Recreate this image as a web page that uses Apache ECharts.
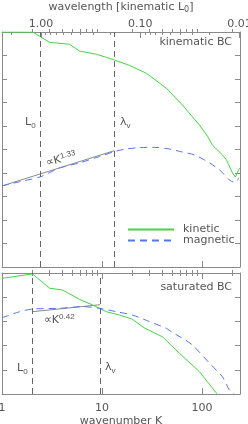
<!DOCTYPE html>
<html><head><meta charset="utf-8">
<script src="https://cdn.jsdelivr.net/npm/echarts@6/dist/echarts.min.js"></script>
<style>html,body{margin:0;padding:0;background:#fff}#c{width:248px;height:424px}</style>
</head><body><div id="c"></div>
<script>
// ---- data (y values are log10 of spectral energy, arbitrary units) ----
const kinTopK   = [1, 2.02, 2.43, 2.99, 4.73, 5.96, 8.81, 11.1, 13.3, 18.8, 27.9, 44.2, 63.8, 94.4, 113.5, 127, 160, 176, 202, 216, 232, 240];
const kinTopY   = [0, 0, -0.20, -0.44, -0.52, -0.81, -0.95, -1.08, -1.19, -1.42, -1.76, -2.40, -3.11, -3.96, -4.43, -4.81, -5.23, -5.45, -6.00, -6.17, -5.87, -5.79];
const magTopK   = [1, 1.50, 2.43, 3.76, 5.96, 9.44, 13.3, 16.8, 23.7, 33.5, 47.3, 63.8, 84.1, 119, 150, 202, 221, 232];
const magTopY   = [-6.55, -6.37, -6.16, -5.79, -5.57, -5.30, -5.09, -4.99, -4.92, -4.91, -4.98, -5.11, -5.23, -5.57, -5.87, -6.37, -6.38, -6.21];
const fitTopK   = [1, 13.3];
const fitTopY   = [-6.55, -5.05];
const kinBotK   = [1, 2.02, 2.99, 4.03, 5.96, 8.04, 11.1, 15.0, 19.9, 26.6, 40.3, 59.6, 94.4, 140, 157];
const kinBotY   = [-0.22, -0.04, -0.63, -0.70, -1.09, -1.32, -1.60, -1.74, -1.90, -2.27, -2.64, -3.32, -4.08, -4.97, -5.3];
const magBotK   = [1, 1.50, 2.02, 3.76, 6.38, 9.44, 14.0, 20.2, 29.9, 44.2, 49.5, 63.8, 80.4, 119, 160, 188, 211];
const magBotY   = [-1.85, -1.60, -1.49, -1.46, -1.39, -1.46, -1.60, -1.74, -2.01, -2.29, -2.43, -2.70, -2.98, -3.73, -4.29, -4.83, -5.0];
const fitBotK   = [2.0, 9.6];
const fitBotY   = [-1.60, -1.31];
const topMarks  = [2.43, 13.3];   // L0, lambda_v (kinematic)
const botMarks  = [2.0, 9.6];     // L0, lambda_v (saturated)
const kMajor    = [1, 10, 100];
const kMinor    = [2,3,4,5,6,7,8,9,20,30,40,50,60,70,80,90,200];
const wlMajor   = [1, 0.1, 0.01];
const wlMinor   = [2, 0.9,0.8,0.7,0.6,0.5,0.4,0.3,0.2, 0.09,0.08,0.07,0.06,0.05,0.04,0.03,0.02];
const K_MIN = 1, K_MAX = 240, WL_MIN = 0.0099, WL_MAX = 2.47;

const pair = (xs, ys) => xs.map((x, i) => [x, ys[i]]);
const GREEN = '#44d444', BLUE = '#5577ee', GRAY = '#8a8a8a', TXT = '#555';
const FONT = 'DejaVu Sans';

const lineX = (grid, pos, major, labels, extra) => Object.assign({
  gridIndex: grid, type: 'log', position: pos, min: K_MIN, max: K_MAX,
  axisLine: {show: true, onZero: false, lineStyle: {color: GRAY, width: 1}},
  axisTick: major ? {inside: true, length: 6, customValues: kMajor, lineStyle: {color: GRAY}}
                  : {inside: true, length: 3, customValues: kMinor, lineStyle: {color: GRAY}},
  axisLabel: labels ? {show: true, customValues: kMajor, color: TXT, fontFamily: FONT, fontSize: 11, margin: 9, formatter: v => String(Math.round(v))} : {show: false},
  splitLine: {show: false}
}, extra || {});
const wlX = (major, extra) => Object.assign({
  gridIndex: 0, type: 'log', position: 'top', inverse: true, min: WL_MIN, max: WL_MAX,
  axisLine: {show: major, onZero: false, lineStyle: {color: GRAY, width: 1}},
  axisTick: major ? {inside: true, length: 6, customValues: wlMajor, lineStyle: {color: GRAY}}
                  : {inside: true, length: 3, customValues: wlMinor, lineStyle: {color: GRAY}},
  axisLabel: major ? {show: true, customValues: wlMajor, color: TXT, fontFamily: FONT, fontSize: 11, margin: 2, formatter: v => v.toFixed(2)} : {show: false},
  splitLine: {show: false}
}, extra || {});
const yA = (grid, pos, min) => ({
  gridIndex: grid, type: 'value', position: pos, min: min, max: 0, interval: 1,
  axisLine: {show: true, onZero: false, lineStyle: {color: GRAY, width: 1}},
  axisTick: {show: true, inside: true, length: 5, lineStyle: {color: GRAY}},
  axisLabel: {show: false}, splitLine: {show: false}
});

const markL = (vals) => ({
  silent: true, symbol: ['none', 'none'], label: {show: false},
  lineStyle: {color: '#666', type: [6, 4], width: 1},
  data: vals.map(v => ({xAxis: v}))
});

const chart = echarts.init(document.getElementById('c'), null, {renderer: 'canvas'});
chart.setOption({
  animation: false,
  grid: [
    {left: 2, width: 238, top: 32, height: 235, outerBoundsMode: 'none', containLabel: false},
    {left: 2, width: 238, top: 273, height: 121, outerBoundsMode: 'none', containLabel: false}
  ],
  xAxis: [
    lineX(0, 'bottom', true, false),
    lineX(0, 'bottom', false, false, {axisLine: {show: false}}),
    wlX(true, {name: 'wavelength [kinematic L{s|0}]', nameLocation: 'middle', nameGap: 16,
      nameTextStyle: {color: TXT, fontFamily: FONT, fontSize: 11,
        rich: {s: {fontSize: 8, color: TXT, fontFamily: FONT, padding: [6, 0, 0, 0]}}}}),
    wlX(false),
    lineX(1, 'bottom', true, true, {name: 'wavenumber K', nameLocation: 'middle', nameGap: 22,
      nameTextStyle: {color: TXT, fontFamily: FONT, fontSize: 11}}),
    lineX(1, 'bottom', false, false, {axisLine: {show: false}}),
    lineX(1, 'top', true, false),
    lineX(1, 'top', false, false, {axisLine: {show: false}})
  ],
  yAxis: [yA(0, 'left', -10), yA(0, 'right', -10), yA(1, 'left', -5), yA(1, 'right', -5)],
  legend: {
    left: 127, top: 224, orient: 'vertical', itemWidth: 46, itemHeight: 12, itemGap: 0,
    padding: 0, data: ['kinetic', 'magnetic'],
    itemStyle: {color: 'rgba(0,0,0,0)', borderWidth: 0, opacity: 0},
    textStyle: {color: TXT, fontFamily: FONT, fontSize: 11, padding: [0, 0, 0, 4]}
  },
  series: [
    {name: 'kinetic', type: 'line', xAxisIndex: 0, yAxisIndex: 0, data: pair(kinTopK, kinTopY),
     symbol: 'none', lineStyle: {color: GREEN, width: 1}, itemStyle: {color: GREEN}, z: 3,
     markLine: markL(topMarks)},
    {name: 'magnetic', type: 'line', xAxisIndex: 0, yAxisIndex: 0, data: pair(magTopK, magTopY),
     symbol: 'none', smooth: 0.3, lineStyle: {color: BLUE, width: 1, type: [7, 5]}, itemStyle: {color: BLUE}, z: 4},
    {name: 'fit1', type: 'line', xAxisIndex: 0, yAxisIndex: 0, data: pair(fitTopK, fitTopY),
     symbol: 'none', lineStyle: {color: '#888', width: 1}, z: 2},
    {name: 'kinetic', type: 'line', xAxisIndex: 4, yAxisIndex: 2, data: pair(kinBotK, kinBotY),
     symbol: 'none', lineStyle: {color: GREEN, width: 1}, itemStyle: {color: GREEN}, z: 3,
     markLine: markL(botMarks)},
    {name: 'magnetic', type: 'line', xAxisIndex: 4, yAxisIndex: 2, data: pair(magBotK, magBotY),
     symbol: 'none', smooth: 0.3, lineStyle: {color: BLUE, width: 1, type: [7, 5]}, itemStyle: {color: BLUE}, z: 4},
    {name: 'fit2', type: 'line', xAxisIndex: 4, yAxisIndex: 2, data: pair(fitBotK, fitBotY),
     symbol: 'none', lineStyle: {color: '#888', width: 1}, z: 2}
  ],
  graphic: [
    {type: 'text', right: 16, top: 37, style: {text: 'kinematic BC', fill: TXT, font: '11px ' + FONT}},
    {type: 'text', right: 16, top: 282, style: {text: 'saturated BC', fill: TXT, font: '11px ' + FONT}},
    {type: 'text', left: 25, top: 117, style: {text: 'L{s|0}', fill: TXT, font: '11px ' + FONT,
      rich: {s: {fontSize: 8, fill: TXT, padding: [6, 0, 0, 0]}}}},
    {type: 'text', left: 120, top: 117, style: {text: 'λ{s|v}', fill: TXT, font: '11px ' + FONT,
      rich: {s: {fontSize: 8, fill: TXT, padding: [6, 0, 0, 0]}}}},
    {type: 'text', left: 17, top: 363, style: {text: 'L{s|0}', fill: TXT, font: '11px ' + FONT,
      rich: {s: {fontSize: 8, fill: TXT, padding: [6, 0, 0, 0]}}}},
    {type: 'text', left: 105, top: 362, style: {text: 'λ{s|v}', fill: TXT, font: '11px ' + FONT,
      rich: {s: {fontSize: 8, fill: TXT, padding: [6, 0, 0, 0]}}}},
    {type: 'text', x: 48, y: 170, rotation: 0.25, style: {text: '∝K{p|1.33}', fill: TXT, font: '11px ' + FONT,
      verticalAlign: 'bottom', rich: {p: {fontSize: 8, fill: TXT, padding: [0, 0, 6, 0]}}}},
    {type: 'text', left: 44, top: 313, style: {text: '∝K{p|0.42}', fill: TXT, font: '11px ' + FONT,
      rich: {p: {fontSize: 8, fill: TXT, padding: [0, 0, 6, 0]}}}}
  ]
});
</script></body></html>
